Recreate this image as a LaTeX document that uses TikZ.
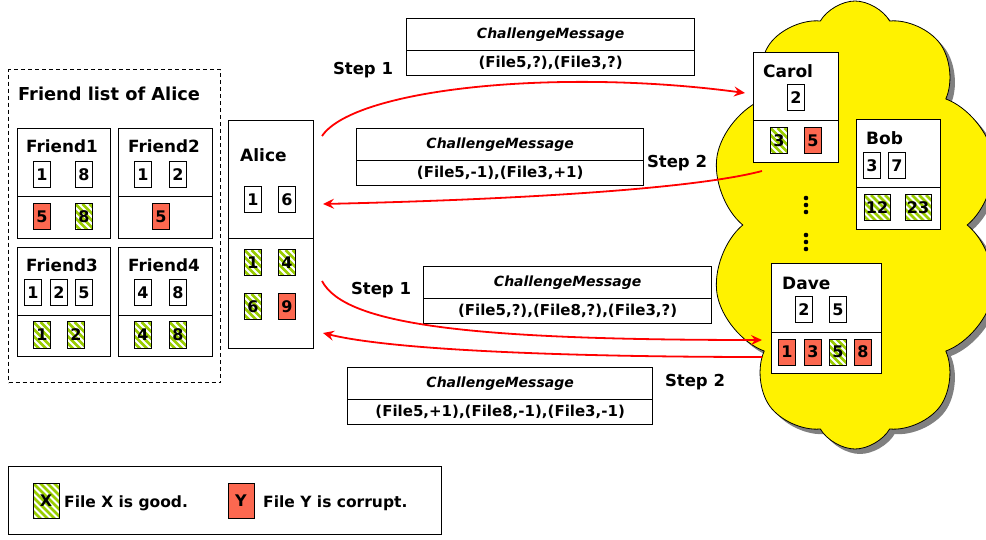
\documentclass[tikz,border=0pt]{standalone}
\usepackage{fontspec}
\setmainfont{DejaVu Sans}
\usetikzlibrary{shapes.symbols,shadows,arrows.meta}
\definecolor{goodgreen}{RGB}{153,204,0}
\definecolor{badred}{RGB}{252,104,80}
\tikzset{
  panel/.style={draw, line width=1.3pt, fill=white, inner sep=0pt, anchor=north west},
  file/.style={draw, line width=1pt, fill=white, minimum width=17pt, minimum height=26pt, inner sep=0pt, font=\fontsize{16}{17}\selectfont\bfseries},
  good/.style={file, path picture={\foreach \k in {-56,-49,...,35}{\draw[goodgreen, line width=2.5pt] ([xshift=\k pt]path picture bounding box.north west) -- ++(48pt,-48pt);}}},
  bad/.style={file, fill=badred},
  who/.style={anchor=west, inner sep=0pt, font=\fontsize{17}{18}\selectfont\bfseries},
  fname/.style={inner sep=0pt, font=\fontsize{16.8}{18}\selectfont\bfseries},
  steplbl/.style={inner sep=0pt, font=\fontsize{16.5}{18}\selectfont\bfseries},
  msgtitle/.style={panel, font=\fontsize{14}{15}\selectfont\bfseries\itshape},
  msgbody/.style={panel, font=\fontsize{15}{16}\selectfont\bfseries},
  flow/.style={red, line width=1.8pt, -{Stealth[length=11pt, width=10pt, inset=4pt]}},
  legtext/.style={anchor=west, inner sep=0pt, font=\fontsize{15.5}{16}\selectfont\bfseries},
}
\begin{document}
\begin{tikzpicture}[x=1pt, y=-1pt]
\useasboundingbox (0,0) rectangle (986,540);

% cloud
\node[cloud, cloud puffs=10, cloud puff arc=120, cloud ignores aspect, draw, line width=0.8pt, fill=yellow,
      minimum width=290pt, minimum height=448pt,
      drop shadow={shadow xshift=5pt, shadow yshift=-5pt, fill=black!50, opacity=1}] (cloud) at (855,225) {};

% friend list
\node[draw, dashed, line width=1.1pt, dash pattern=on 4pt off 3pt, minimum width=212pt, minimum height=313pt, inner sep=0pt, anchor=north west] (flist) at (8,69) {};
\node[fname, font=\fontsize{17.8}{20}\selectfont\bfseries, anchor=west] (fltitle) at (18,94) {Friend list of Alice};

\node[panel, minimum width=93pt, minimum height=68pt] (f1t) at (17,128) {};
\node[panel, minimum width=93pt, minimum height=42pt] (f1b) at (17,196) {};
\node[panel, minimum width=94pt, minimum height=68pt] (f2t) at (118,128) {};
\node[panel, minimum width=94pt, minimum height=42pt] (f2b) at (118,196) {};
\node[panel, minimum width=93pt, minimum height=68pt] (f3t) at (17,247) {};
\node[panel, minimum width=93pt, minimum height=41pt] (f3b) at (17,315) {};
\node[panel, minimum width=94pt, minimum height=68pt] (f4t) at (118,247) {};
\node[panel, minimum width=94pt, minimum height=41pt] (f4b) at (118,315) {};

\node[fname] (f1n) at (62,146) {Friend1};
\node[file] (f1a) at (42,175) {1};
\node[file] (f1c) at (84,175) {8};
\node[bad]  (f1d) at (42,217) {5};
\node[good] (f1e) at (84,217) {8};

\node[fname] (f2n) at (164,146) {Friend2};
\node[file] (f2a) at (143,175) {1};
\node[file] (f2c) at (178,175) {2};
\node[bad]  (f2d) at (161,217) {5};

\node[fname] (f3n) at (62,265) {Friend3};
\node[file] (f3a) at (33,293) {1};
\node[file] (f3c) at (59,293) {2};
\node[file] (f3d) at (84,293) {5};
\node[good] (f3e) at (42,335) {1};
\node[good] (f3f) at (76,335) {2};

\node[fname] (f4n) at (164,265) {Friend4};
\node[file] (f4a) at (143,293) {4};
\node[file] (f4c) at (178,293) {8};
\node[good] (f4d) at (143,335) {4};
\node[good] (f4e) at (178,335) {8};

% Alice
\node[panel, minimum width=85pt, minimum height=118pt] (alt) at (228,120) {};
\node[panel, minimum width=85pt, minimum height=110pt] (alb) at (228,238) {};
\node[who] (aliceN) at (240,155) {Alice};
\node[file] (al1) at (253,200) {1};
\node[file] (al2) at (287,200) {6};
\node[good] (al3) at (253,263) {1};
\node[good] (al4) at (287,263) {4};
\node[good] (al5) at (253,307) {6};
\node[bad]  (al6) at (287,307) {9};

% Carol
\node[panel, minimum width=85pt, minimum height=68pt] (cat) at (753,52) {};
\node[panel, minimum width=85pt, minimum height=42pt] (cab) at (753,120) {};
\node[who] (carolN) at (763,71) {Carol};
\node[file] (ca1) at (796,98) {2};
\node[good] (ca2) at (779,141) {3};
\node[bad]  (ca3) at (813,141) {5};

% Bob
\node[panel, minimum width=84pt, minimum height=68pt] (bot) at (856,119) {};
\node[panel, minimum width=84pt, minimum height=42pt] (bob) at (856,187) {};
\node[who] (bobN) at (866,138) {Bob};
\node[file] (bo1) at (872,166) {3};
\node[file] (bo2) at (897,166) {7};
\node[good, minimum width=26pt] (bo3) at (877,208) {12};
\node[good, minimum width=26pt] (bo4) at (918,208) {23};

% dots
\foreach \yy in {198,205,212,235,242,249}{\fill (806,\yy) circle (2.3pt);}

% Dave
\node[panel, minimum width=110pt, minimum height=69pt] (dat) at (771,263) {};
\node[panel, minimum width=110pt, minimum height=41pt] (dab) at (771,332) {};
\node[who] (daveN) at (782,283) {Dave};
\node[file] (da1) at (804,310) {2};
\node[file] (da2) at (838,310) {5};
\node[bad]  (da3) at (787,352) {1};
\node[bad]  (da4) at (813,352) {3};
\node[good] (da5) at (838,352) {5};
\node[bad]  (da6) at (863,352) {8};

% messages
\node[msgtitle, minimum width=288pt, minimum height=32pt] (m1t) at (406,18) {ChallengeMessage};
\node[msgbody,  minimum width=288pt, minimum height=25pt] (m1c) at (406,50) {(File5,?),(File3,?)};
\node[msgtitle, minimum width=287pt, minimum height=32pt] (m2t) at (356,128) {ChallengeMessage};
\node[msgbody,  minimum width=287pt, minimum height=25pt] (m2c) at (356,160) {(File5,-1),(File3,+1)};
\node[msgtitle, minimum width=288pt, minimum height=32pt] (m3t) at (423,266) {ChallengeMessage};
\node[msgbody,  minimum width=288pt, minimum height=25pt] (m3c) at (423,298) {(File5,?),(File8,?),(File3,?)};
\node[msgtitle, minimum width=305pt, minimum height=32pt] (m4t) at (347,367) {ChallengeMessage};
\node[msgbody,  minimum width=305pt, minimum height=25pt] (m4c) at (347,399) {(File5,+1),(File8,-1),(File3,-1)};

\node[steplbl] (s1a) at (363,70) {Step 1};
\node[steplbl] (s2a) at (677,163) {Step 2};
\node[steplbl] (s1b) at (381,290) {Step 1};
\node[steplbl] (s2b) at (695,382) {Step 2};

% arrows
\coordinate (a1s) at (322,136);
\coordinate (a1e) at (745,93);
\coordinate (a2s) at (762,171);
\coordinate (a2e) at (323,204);
\coordinate (a3s) at (322,281);
\coordinate (a3e) at (762,340);
\coordinate (a4s) at (762,357);
\coordinate (a4e) at (323,333);
\draw[flow] (a1s) .. controls (355,88) and (560,68) .. (a1e);
\draw[flow] (a2s) .. controls (690,190) and (500,200) .. (a2e);
\draw[flow] (a3s) .. controls (345,325) and (470,340) .. (a3e);
\draw[flow] (a4s) .. controls (600,357) and (400,352) .. (a4e);

% legend
\node[draw, line width=1.3pt, minimum width=433pt, minimum height=68pt, inner sep=0pt, anchor=north west] (legend) at (8,466) {};
\node[good, minimum width=26pt, minimum height=35pt] (lgood) at (46,500.5) {X};
\node[legtext] (lgoodt) at (64,503) {File X is good.};
\node[bad, minimum width=26pt, minimum height=35pt] (lbad) at (241,500.5) {Y};
\node[legtext] (lbadt) at (263,503) {File Y is corrupt.};
\end{tikzpicture}
\end{document}
